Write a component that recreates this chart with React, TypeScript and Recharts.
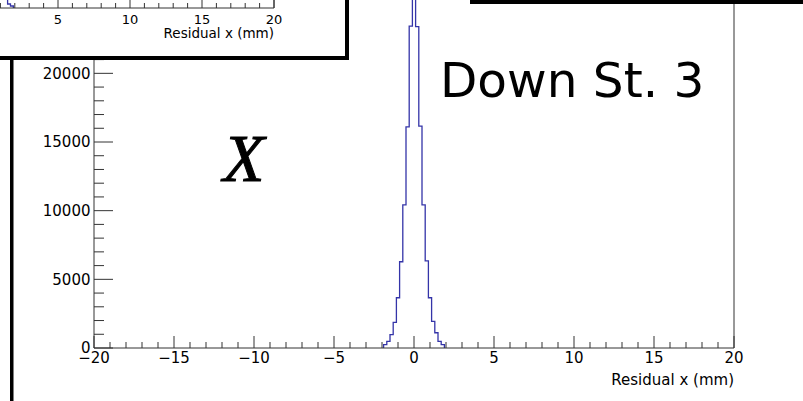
import { ComposedChart, Line, ReferenceLine, XAxis, YAxis } from 'recharts';

// residual histogram, 0.2 mm bins (low edges + closing edge)
const binEdges = [
  -1.9, -1.7, -1.5, -1.3, -1.1, -0.9, -0.7, -0.5, -0.3, -0.1,
  0.1, 0.3, 0.5, 0.7, 0.9, 1.1, 1.3, 1.5, 1.7, 1.9,
];
const binCounts = [
  240, 480, 970, 1860, 3660, 6280, 10420, 16100, 23440, 29000,
  23400, 16160, 10420, 6350, 3660, 1935, 1110, 480, 240,
];

const xTicks = Array.from({ length: 41 }, (_, i) => i - 20);
const yTicks = Array.from({ length: 31 }, (_, i) => i * 1000);
const insetTicks = Array.from({ length: 41 }, (_, i) => i - 20);

const FONT = 'DejaVu Sans';
const AXIS = '#333';
const HIST = '#3434a8';

const histData = [
  { x: binEdges[0], count: 0 },
  ...binEdges.map((e, i) => ({ x: e, count: i < binCounts.length ? binCounts[i] : 0 })),
];

const fmt = (v: number) => (v < 0 ? '\u2212' + Math.abs(v) : String(v));

function MainYTick({ x, y, payload }: any) {
  const v = payload.value;
  const major = v % 5000 === 0;
  return (
    <g>
      <line x1={x} x2={x + (major ? 19 : 10)} y1={y} y2={y} stroke={AXIS} />
      {major && (
        <text x={x - 3.5} y={y} dy="0.36em" textAnchor="end" fontSize={15} fontFamily={FONT} fill="#000">
          {v}
        </text>
      )}
    </g>
  );
}

function MainXTick({ x, y, payload }: any) {
  const v = payload.value;
  const major = v % 5 === 0;
  return (
    <g>
      <line x1={x} x2={x} y1={y} y2={y - (major ? 12 : 6)} stroke={AXIS} />
      {major && (
        <text x={x} y={y + 14.5} textAnchor="middle" fontSize={15} fontFamily={FONT} fill="#000">
          {fmt(v)}
        </text>
      )}
    </g>
  );
}

function InsetXTick({ x, y, payload }: any) {
  const v = payload.value;
  const major = v % 5 === 0;
  return (
    <g>
      <line x1={x} x2={x} y1={y} y2={y - (major ? 10 : 5)} stroke={AXIS} />
      {major && (
        <text x={x} y={y + 15.5} textAnchor="middle" fontSize={13} fontFamily={FONT} fill="#000">
          {fmt(v)}
        </text>
      )}
    </g>
  );
}

export default function App() {
  return (
    <div style={{ position: 'fixed', left: 0, top: 0, width: 803, height: 401, overflow: 'hidden', background: '#fff' }}>
      {/* main pad */}
      <div style={{ position: 'absolute', left: 0, top: -70 }}>
        <ComposedChart width={803} height={468} data={histData} margin={{ top: 6, right: 69, bottom: 0, left: 0 }}>
          <XAxis
            type="number"
            dataKey="x"
            domain={[-20, 20]}
            ticks={xTicks}
            interval={0}
            allowDataOverflow
            height={50}
            tickSize={0}
            tickMargin={0}
            tickLine={false}
            axisLine={{ stroke: AXIS }}
            tick={<MainXTick />}
          />
          <YAxis
            type="number"
            domain={[0, 30000]}
            ticks={yTicks}
            interval={0}
            allowDataOverflow
            width={94}
            tickSize={0}
            tickMargin={0}
            tickLine={false}
            axisLine={{ stroke: AXIS }}
            tick={<MainYTick />}
          />
          <ReferenceLine x={20} stroke={AXIS} />
          <Line
            type="stepAfter"
            dataKey="count"
            stroke={HIST}
            strokeWidth={1.3}
            dot={false}
            isAnimationActive={false}
          />
        </ComposedChart>
      </div>

      {/* neighbouring pad, bottom part only */}
      <div
        style={{
          position: 'absolute',
          left: 0,
          top: 0,
          width: 345,
          height: 56,
          background: '#fff',
          borderRight: '4px solid #000',
          borderBottom: '4px solid #000',
          overflow: 'hidden',
        }}
      >
        <div style={{ position: 'absolute', left: -302, top: -142 }}>
          <ComposedChart width={626} height={190} data={histData} margin={{ top: 0, right: 50, bottom: 0, left: 0 }}>
            <XAxis
              type="number"
              dataKey="x"
              domain={[-20, 20]}
              ticks={insetTicks}
              interval={0}
              allowDataOverflow
              height={40}
              tickSize={0}
              tickMargin={0}
              tickLine={false}
              axisLine={{ stroke: AXIS }}
              tick={<InsetXTick />}
            />
            <YAxis type="number" domain={[0, 18000]} hide allowDataOverflow />
            <ReferenceLine x={20} stroke={AXIS} />
            <Line type="stepAfter" dataKey="count" stroke={HIST} strokeWidth={1.3} dot={false} isAnimationActive={false} />
          </ComposedChart>
        </div>
        <div
          style={{
            position: 'absolute',
            right: 71,
            top: 25,
            fontFamily: FONT,
            fontSize: 13.5,
            lineHeight: '16px',
            whiteSpace: 'nowrap',
          }}
        >
          Residual x (mm)
        </div>
      </div>

      <svg width={803} height={401} style={{ position: 'absolute', left: 0, top: 0, pointerEvents: 'none' }}>
        <rect x={10} y={58} width={3.5} height={343} fill="#000" />
        <rect x={470} y={0} width={333} height={4} fill="#000" />
        <text x={440} y={97} fontSize={48.5} fontFamily={FONT} fill="#000">
          Down St. 3
        </text>
        <text
          x={223}
          y={181}
          fontSize={68}
          fontFamily="Liberation Serif"
          fontStyle="italic"
          fill="#000"
          stroke="#000"
          strokeWidth={1}
        >
          X
        </text>
        <text x={734} y={385} textAnchor="end" fontSize={15} fontFamily={FONT} fill="#000">
          Residual x (mm)
        </text>
      </svg>
    </div>
  );
}
